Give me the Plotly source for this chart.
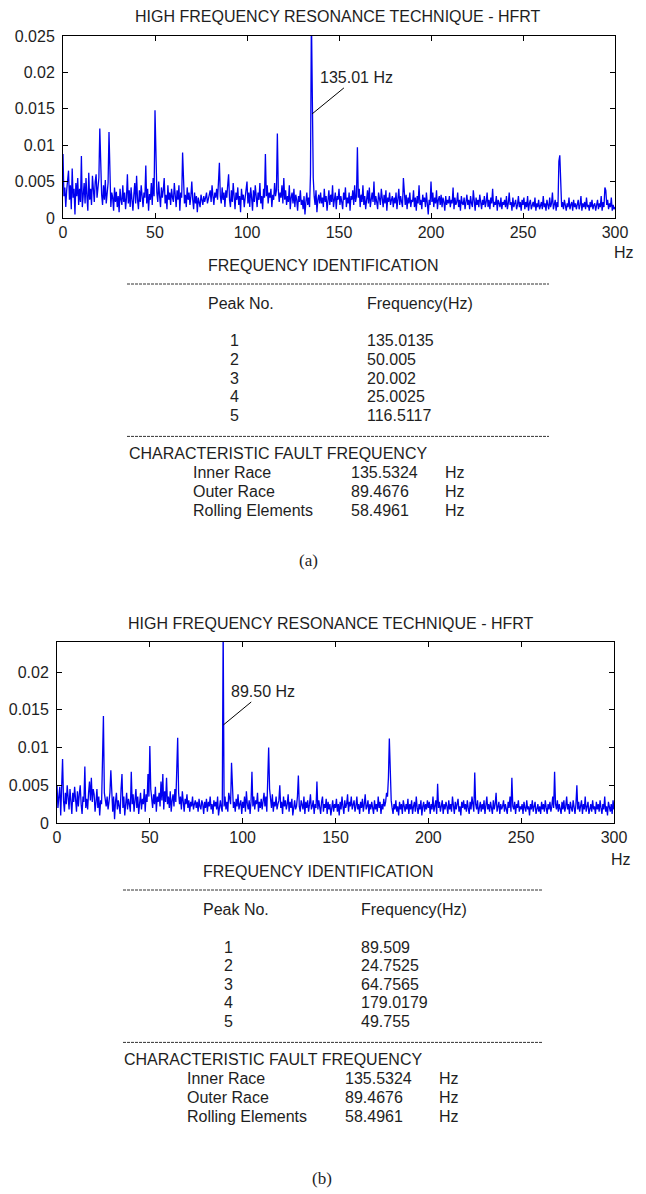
import plotly.graph_objects as go

W, H = 646, 1194

# ---------------- data ----------------
step_hz = 0.5
# Spectrum amplitudes (units of 1e-4), one value per 0.5 Hz from 0 to 300 Hz
amp_a_e4 = [
    88, 30, 42, 15, 38, 52, 65, 25, 45, 12, 68, 28, 40, 5, 48, 30, 55, 18, 40, 22,
    85, 15, 35, 48, 20, 55, 30, 10, 62, 25, 40, 18, 58, 35, 22, 50, 60, 28, 45, 55,
    123, 70, 32, 18, 45, 25, 52, 20, 38, 48, 118, 40, 15, 35, 28, 10, 42, 22, 36, 15,
    30, 8, 40, 25, 18, 45, 22, 35, 12, 28, 60, 20, 38, 15, 42, 25, 10, 32, 48, 20,
    58, 25, 12, 38, 22, 45, 30, 15, 35, 28, 72, 20, 40, 10, 33, 25, 48, 18, 55, 30,
    148, 90, 35, 22, 50, 30, 15, 42, 28, 38, 55, 20, 32, 12, 45, 25, 35, 18, 40, 28,
    22, 48, 30, 15, 38, 25, 45, 10, 35, 28, 90, 40, 20, 32, 15, 42, 25, 35, 18, 30,
    50, 25, 12, 35, 20, 30, 8, 28, 22, 15, 32, 25, 18, 30, 22, 28, 35, 20, 25, 30,
    38, 22, 45, 30, 18, 35, 28, 40, 25, 50, 76, 30, 20, 42, 25, 35, 15, 38, 28, 45,
    60, 25, 15, 38, 22, 48, 30, 12, 35, 25, 42, 18, 30, 8, 40, 25, 32, 15, 28, 38,
    50, 20, 35, 15, 42, 28, 10, 38, 22, 45, 30, 15, 35, 25, 48, 20, 30, 12, 40, 28,
    88, 30, 45, 20, 35, 28, 40, 15, 32, 25, 48, 30, 38, 116, 40, 22, 35, 28, 45, 20,
    55, 25, 38, 18, 30, 22, 45, 12, 28, 35, 20, 40, 15, 32, 25, 10, 30, 22, 38, 18,
    25, 12, 30, 5, 22, 35, 18, 28, 15, 60, 280, 143, 55, 30, 18, 38, 8, 25, 32, 20,
    35, 20, 28, 15, 40, 22, 30, 10, 25, 38, 18, 32, 22, 45, 15, 28, 35, 12, 30, 25,
    40, 18, 30, 22, 12, 35, 25, 42, 15, 28, 20, 35, 10, 30, 25, 38, 18, 45, 22, 30,
    97, 28, 40, 15, 32, 22, 45, 18, 30, 12, 25, 38, 20, 42, 15, 28, 35, 22, 50, 18,
    30, 22, 12, 35, 25, 18, 40, 28, 15, 32, 20, 38, 10, 28, 22, 35, 18, 25, 30, 15,
    28, 20, 35, 12, 25, 40, 18, 30, 22, 15, 55, 25, 18, 32, 12, 28, 20, 35, 15, 25,
    22, 38, 15, 28, 10, 30, 20, 45, 18, 25, 12, 32, 22, 28, 15, 35, 20, 5, 25, 18,
    50, 22, 35, 15, 28, 20, 38, 12, 25, 30, 18, 32, 15, 28, 22, 10, 30, 18, 25, 20,
    30, 15, 25, 20, 42, 12, 28, 18, 22, 35, 15, 25, 10, 30, 20, 18, 28, 12, 22, 32,
    18, 25, 12, 30, 20, 15, 38, 22, 10, 28, 18, 25, 15, 32, 20, 12, 25, 18, 30, 15,
    22, 35, 15, 25, 12, 28, 20, 40, 15, 22, 18, 30, 10, 25, 20, 15, 28, 12, 22, 18,
    25, 15, 30, 12, 20, 35, 18, 22, 10, 28, 15, 20, 25, 12, 18, 30, 15, 22, 10, 25,
    18, 28, 12, 22, 15, 30, 10, 20, 25, 12, 18, 22, 15, 28, 10, 20, 15, 25, 12, 18,
    22, 12, 30, 15, 20, 10, 25, 18, 12, 28, 15, 20, 35, 12, 18, 25, 10, 22, 15, 78,
    86, 30, 15, 22, 12, 25, 18, 10, 20, 15, 28, 12, 18, 22, 10, 25, 15, 20, 12, 18,
    25, 12, 18, 30, 10, 20, 15, 22, 12, 28, 15, 18, 10, 22, 15, 25, 12, 18, 20, 10,
    18, 25, 12, 20, 15, 30, 10, 22, 15, 42, 38, 18, 25, 12, 20, 15, 28, 10, 18, 12,
    15,
]
amp_b_e4 = [
    50, 20, 35, 48, 10, 42, 85, 30, 15, 40, 25, 50, 35, 18, 45, 30, 12, 40, 28, 48,
    30, 15, 42, 22, 38, 50, 25, 12, 35, 28, 75, 20, 32, 18, 40, 55, 30, 60, 28, 45,
    38, 15, 28, 45, 20, 35, 10, 30, 25, 85, 142, 40, 30, 22, 35, 18, 28, 40, 70, 25,
    15, 35, 5, 28, 40, 18, 30, 22, 12, 45, 65, 20, 35, 10, 28, 40, 18, 32, 25, 15,
    68, 25, 38, 15, 30, 45, 20, 35, 12, 28, 40, 18, 32, 25, 45, 15, 38, 28, 65, 35,
    102, 45, 30, 20, 38, 25, 48, 15, 35, 28, 40, 22, 55, 30, 65, 18, 42, 28, 60, 25,
    35, 20, 42, 15, 30, 38, 22, 45, 28, 75, 113, 40, 25, 35, 18, 42, 28, 15, 32, 25,
    38, 20, 30, 15, 28, 22, 35, 18, 25, 30, 20, 28, 15, 32, 22, 18, 30, 25, 12, 28,
    20, 32, 15, 28, 22, 35, 18, 25, 12, 30, 22, 28, 18, 35, 10, 25, 30, 20, 15, 260,
    22, 35, 18, 28, 15, 40, 30, 25, 80, 35, 20, 28, 15, 32, 22, 38, 18, 25, 30, 12,
    28, 20, 35, 15, 42, 25, 18, 30, 12, 28, 68, 22, 35, 18, 30, 25, 40, 15, 28, 20,
    32, 18, 28, 40, 22, 35, 15, 60, 100, 45, 30, 20, 38, 15, 28, 22, 35, 18, 25, 30,
    50, 20, 28, 12, 35, 22, 30, 18, 25, 38, 15, 28, 20, 32, 10, 25, 30, 18, 22, 35,
    63, 22, 15, 30, 25, 18, 35, 12, 28, 20, 30, 15, 25, 38, 18, 22, 30, 12, 25, 20,
    55, 18, 30, 22, 12, 28, 35, 15, 25, 20, 32, 12, 28, 18, 25, 10, 22, 30, 15, 25,
    20, 32, 15, 25, 10, 28, 18, 35, 22, 12, 30, 20, 25, 38, 15, 28, 22, 35, 18, 25,
    30, 15, 22, 35, 18, 25, 12, 28, 20, 32, 15, 25, 38, 18, 22, 30, 12, 25, 18, 28,
    22, 12, 30, 18, 25, 15, 35, 20, 28, 12, 25, 18, 32, 22, 28, 40, 35, 60, 112, 45,
    30, 20, 12, 25, 18, 30, 15, 22, 10, 28, 18, 25, 12, 30, 20, 15, 25, 18, 32, 12,
    25, 18, 30, 12, 22, 28, 15, 35, 20, 12, 25, 18, 30, 10, 22, 28, 15, 25, 18, 30,
    20, 28, 12, 25, 18, 35, 15, 22, 30, 12, 52, 20, 28, 15, 22, 30, 12, 25, 18, 28,
    22, 12, 30, 18, 25, 15, 35, 20, 12, 28, 18, 25, 32, 15, 22, 10, 28, 20, 30, 18,
    25, 15, 30, 20, 12, 28, 18, 35, 22, 15, 67, 25, 18, 30, 12, 22, 28, 15, 25, 18,
    30, 12, 22, 35, 18, 25, 15, 28, 20, 12, 30, 18, 25, 40, 15, 22, 28, 12, 25, 18,
    22, 30, 15, 25, 18, 12, 28, 20, 35, 15, 60, 22, 18, 28, 12, 25, 20, 30, 15, 22,
    18, 25, 12, 28, 20, 15, 30, 18, 22, 10, 25, 18, 30, 15, 22, 28, 12, 20, 25, 15,
    22, 12, 28, 18, 25, 15, 30, 20, 12, 25, 18, 28, 15, 22, 35, 20, 68, 25, 18, 30,
    15, 25, 20, 12, 28, 18, 30, 15, 22, 35, 18, 25, 12, 28, 20, 15, 30, 22, 12, 25,
    50, 18, 28, 15, 22, 30, 12, 25, 18, 35, 15, 22, 28, 12, 20, 25, 15, 30, 18, 22,
    12, 28, 18, 25, 15, 30, 20, 12, 25, 18, 35, 15, 22, 10, 28, 20, 15, 25, 12, 30,
    18,
]
freq_a = [i * step_hz for i in range(len(amp_a_e4))]
freq_b = [i * step_hz for i in range(len(amp_b_e4))]
amp_a = [v * 1e-4 for v in amp_a_e4]
amp_b = [v * 1e-4 for v in amp_b_e4]

x_ticks = [0, 50, 100, 150, 200, 250, 300]
y_ticks_a = [0, 0.005, 0.01, 0.015, 0.02, 0.025]
y_ticks_b = [0, 0.005, 0.01, 0.015, 0.02]

title_text = "HIGH FREQUENCY RESONANCE TECHNIQUE - HFRT"
peak_label_a = "135.01 Hz"
peak_point_a = (135.4, 0.0143)
peak_label_b = "89.50 Hz"
peak_point_b = (89.6, 0.013)

peak_no = ["1", "2", "3", "4", "5"]
peak_freq_a = ["135.0135", "50.005", "20.002", "25.0025", "116.5117"]
peak_freq_b = ["89.509", "24.7525", "64.7565", "179.0179", "49.755"]
fault_names = ["Inner Race", "Outer Race", "Rolling Elements"]
fault_freqs = ["135.5324", "89.4676", "58.4961"]

# ---------------- helpers ----------------
OFF = 8  # page body margin of the html page

def px(x):
    return (x - OFF) / W

def py(y):
    return 1 - (y - OFF) / H

FONT = "Liberation Sans, Arial, sans-serif"
TXT = "#1e1e1e"
FS = 16
LINE_BLUE = "#0000f0"

fig = go.Figure()
fig.add_trace(go.Scatter(x=freq_a, y=amp_a, mode="lines",
                         line=dict(color=LINE_BLUE, width=1.3),
                         xaxis="x", yaxis="y", showlegend=False, hoverinfo="skip"))
fig.add_trace(go.Scatter(x=freq_b, y=amp_b, mode="lines",
                         line=dict(color=LINE_BLUE, width=1.3),
                         xaxis="x2", yaxis="y2", showlegend=False, hoverinfo="skip"))

axis_common = dict(showline=True, linecolor="black", linewidth=1, mirror="ticks",
                   ticks="inside", ticklen=5, tickcolor="black", showgrid=False,
                   zeroline=False, tickfont=dict(family=FONT, size=FS, color=TXT),
                   fixedrange=True, automargin=False)

fig.update_layout(
    width=W, height=H,
    margin=dict(l=0, r=0, t=0, b=0, pad=0, autoexpand=False),
    paper_bgcolor="white", plot_bgcolor="white",
    xaxis=dict(domain=[px(63), px(615)], range=[0, 300], tickvals=x_ticks,
               anchor="y", **axis_common),
    yaxis=dict(domain=[py(218), py(36)], range=[0, 0.025], tickvals=y_ticks_a,
               ticktext=[f"{v:g}" for v in y_ticks_a], anchor="x",
               ticklabelstandoff=4, **axis_common),
    xaxis2=dict(domain=[px(57), px(614)], range=[0, 300], tickvals=x_ticks,
                anchor="y2", **axis_common),
    yaxis2=dict(domain=[py(823), py(642)], range=[0, 0.024], tickvals=y_ticks_b,
                ticktext=[f"{v:g}" for v in y_ticks_b], anchor="x2",
                ticklabelstandoff=4, **axis_common),
)

ann = []
shapes = []

def text(x, y, s, anchor="left", size=FS, family=FONT):
    ann.append(dict(x=px(x), y=py(y), xref="paper", yref="paper", text=s,
                    showarrow=False, xanchor=anchor, yanchor="middle",
                    font=dict(family=family, size=size, color=TXT)))

def dashed(x0, x1, y):
    shapes.append(dict(type="line", xref="paper", yref="paper",
                       x0=px(x0), x1=px(x1), y0=py(y), y1=py(y),
                       line=dict(color="#333333", width=1, dash="3px,1px")))

def block(top, left_fi, peak_left, peak_center, freq_left, dash_x0, dash_x1,
          char_left, name_left, val_left, hz_left, freqs, label, label_x, label_y,
          dy_peaks, dy_names):
    text(left_fi, top, "FREQUENCY IDENTIFICATION")
    dashed(dash_x0, dash_x1, top + 19)
    text(peak_left, top + 38, "Peak No.")
    text(freq_left, top + 38, "Frequency(Hz)")
    for i, (n, f) in enumerate(zip(peak_no, freqs)):
        yy = top + 76 + i * dy_peaks
        text(peak_center, yy, n, anchor="center")
        text(freq_left, yy, f)
    y2 = top + 76 + 4 * dy_peaks + 21
    dashed(dash_x0, dash_x1, y2)
    text(char_left, y2 + 17, "CHARACTERISTIC FAULT FREQUENCY")
    for i, (n, v) in enumerate(zip(fault_names, fault_freqs)):
        yy = y2 + 36 + i * dy_names
        text(name_left, yy, n)
        text(val_left, yy, v)
        text(hz_left, yy, "Hz")
    text(label_x, label_y, label, anchor="center", size=17,
         family="Liberation Serif, Times New Roman, serif")

# titles
text(338, 17, title_text, anchor="center")
text(331, 623, title_text, anchor="center")
# axis unit labels
text(624, 253, "Hz", anchor="center")
text(621, 859, "Hz", anchor="center")

block(265, 206, 206, 234, 365, 127, 549, 127, 191, 349, 443, peak_freq_a,
      "(a)", 308, 560, 18.6, 19)
block(871, 201, 201, 228, 359, 123, 543, 122, 185, 343, 437, peak_freq_b,
      "(b)", 322, 1178, 18.6, 19)

# peak annotations with leader lines
ann.append(dict(x=peak_point_a[0], y=peak_point_a[1], xref="x", yref="y",
                text=peak_label_a, showarrow=True, arrowhead=0, arrowwidth=1,
                arrowcolor="black", ax=44, ay=-36, xanchor="center",
                yanchor="middle", font=dict(family=FONT, size=FS, color=TXT)))
ann.append(dict(x=peak_point_b[0], y=peak_point_b[1], xref="x2", yref="y2",
                text=peak_label_b, showarrow=True, arrowhead=0, arrowwidth=1,
                arrowcolor="black", ax=40, ay=-33, xanchor="center",
                yanchor="middle", font=dict(family=FONT, size=FS, color=TXT)))

fig.update_layout(annotations=ann, shapes=shapes)
fig.write_html("out.html")
